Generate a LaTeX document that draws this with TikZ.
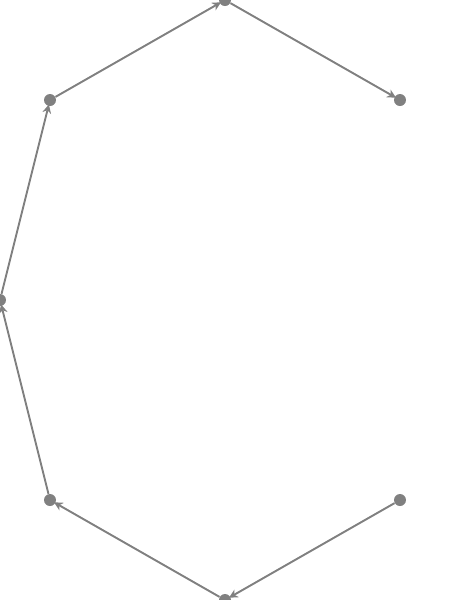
\documentclass[tikz,border=0pt]{standalone}
\usetikzlibrary{arrows.meta}
\definecolor{edgegray}{HTML}{808080}
\tikzset{
  dot/.style={circle,fill=edgegray,draw=none,inner sep=0pt,minimum size=0.24cm},
  link/.style={draw=edgegray,line width=1.1pt,-{Stealth[length=5pt,width=5pt]},shorten >=-1pt}
}
\begin{document}
\begin{tikzpicture}[x=0.02cm,y=-0.02cm]
\useasboundingbox (0,0) rectangle (450,600);
\node[dot] (a) at (225,0) {};
\node[dot] (b) at (50,100) {};
\node[dot] (c) at (400,100) {};
\node[dot] (d) at (0,300) {};
\node[dot] (e) at (50,500) {};
\node[dot] (f) at (400,500) {};
\node[dot] (g) at (225,600) {};
\draw[link] (b) -- (a);
\draw[link] (a) -- (c);
\draw[link] (d) -- (b);
\draw[link] (e) -- (d);
\draw[link] (g) -- (e);
\draw[link] (f) -- (g);
\end{tikzpicture}
\end{document}
